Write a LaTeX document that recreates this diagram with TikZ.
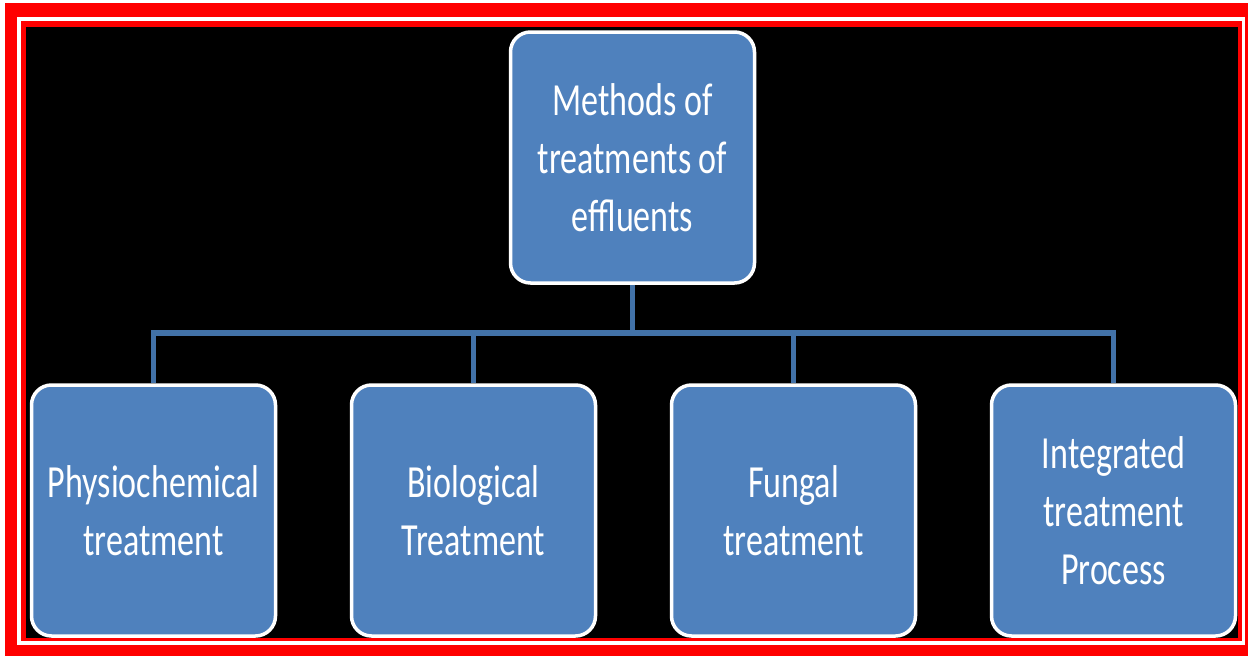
\documentclass[tikz,border=0pt]{standalone}
\usepackage{fontspec}
\usepackage{tikz}
\usetikzlibrary{calc}
\newfontfamily\cajafont[FakeStretch=0.74]{Carlito}
\definecolor{rojo}{HTML}{FF0000}
\definecolor{cajaazul}{HTML}{4F81BD}
\definecolor{lineaazul}{HTML}{4272A8}
\definecolor{sombra}{HTML}{A6A6A6}
\tikzset{
  caja/.style={rectangle,rounded corners=20pt,draw=white,fill=cajaazul,line width=3.5pt,
    minimum width=244pt,minimum height=251pt,inner sep=0pt,align=center,text=white,
    font=\cajafont\fontsize{46}{58}\selectfont},
  enlace/.style={draw=lineaazul,line width=5.5pt},
}
\begin{document}
\begin{tikzpicture}[x=1pt,y=-1pt]
  \useasboundingbox (0,0) rectangle (1248,656);
  % marco rojo y fondo negro
  \fill[white] (0,0) rectangle (1248,656);
  \fill[rojo] (5,3) rectangle (1262,670);
  \fill[white] (17,17) rectangle (1245,645);
  \fill[rojo] (21,21) rectangle (1242,641);
  \fill[black] (26,27) rectangle (1238,638);
  % cajas
  \node[caja] (metodos) at (632.5,157.5) {Methods of\\treatments of\\effluents};
  \node[caja] (fisico) at (153.5,510.5) {Physiochemical\\treatment};
  \node[caja] (biologico) at (473.5,510.5) {Biological\\Treatment};
  \node[caja] (fungico) at (793.5,510.5) {Fungal\\treatment};
  \node[caja] (integrado) at (1113.5,510.5) {Integrated\\treatment\\Process};
  % conectores
  \coordinate (union) at (metodos.south |- 0,333);
  \draw[enlace] (metodos.south) -- (union);
  \foreach \hijo in {fisico,biologico,fungico,integrado}
    \draw[enlace] (union) -| (\hijo.north);
\end{tikzpicture}
\end{document}
